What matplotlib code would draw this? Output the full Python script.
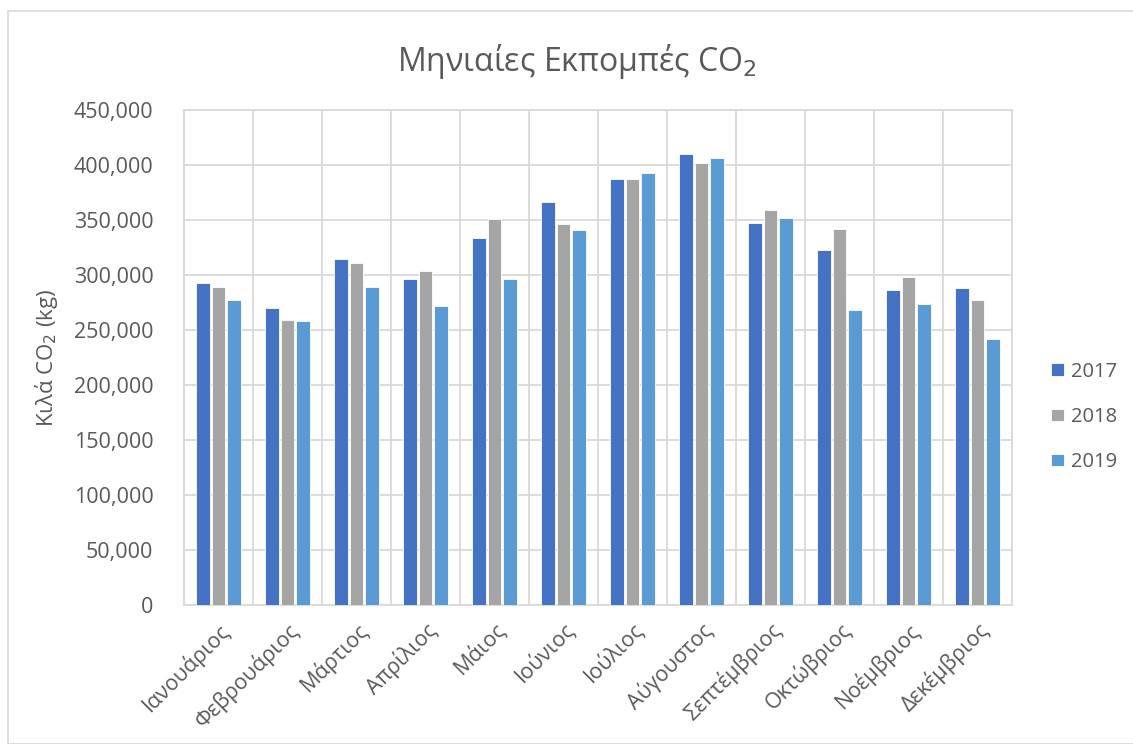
import numpy as np
import matplotlib
matplotlib.use('Agg')
import matplotlib.pyplot as plt
from matplotlib.patches import Rectangle
from matplotlib.ticker import FuncFormatter

# Δεδομένα (εκτίμηση από το γράφημα)
mines = ['Ιανουάριος', 'Φεβρουάριος', 'Μάρτιος', 'Απρίλιος', 'Μάιος', 'Ιούνιος',
         'Ιούλιος', 'Αύγουστος', 'Σεπτέμβριος', 'Οκτώβριος', 'Νοέμβριος', 'Δεκέμβριος']
etos_2017 = [293000, 270000, 314500, 296000, 333500, 366500, 387500, 410000, 347500, 323000, 286000, 288000]
etos_2018 = [289500, 259000, 310500, 304000, 350500, 346500, 387500, 402000, 359000, 342000, 298500, 277000]
etos_2019 = [277500, 258000, 289000, 272000, 296500, 340500, 393000, 406500, 351500, 268500, 273500, 242000]
xronia = ['2017', '2018', '2019']
xromata = ['#4472C4', '#A5A5A5', '#5B9BD5']

plt.rcParams['font.family'] = ['Open Sans', 'DejaVu Sans']
keimeno = '#595959'
plegma = '#D9D9D9'

fig = plt.figure(figsize=(11.33, 7.44), dpi=100)
ax = fig.add_axes([0.1624, 0.1868, 0.7308, 0.6654])

# πλαίσιο γραφήματος
fig.patches.append(Rectangle((8 / 1133, 0), 1.2, 1 - 11 / 744, transform=fig.transFigure,
                             fill=False, edgecolor=plegma, linewidth=1.2))

x = np.arange(len(mines))
platos = 0.2
for i, (dedomena, xr, et) in enumerate(zip([etos_2017, etos_2018, etos_2019], xromata, xronia)):
    ax.bar(x + (i - 1) * 0.225, dedomena, width=platos, color=xr, edgecolor='white',
           linewidth=0.6, label=et, zorder=3)

ax.set_xlim(-0.5, len(mines) - 0.5)
ax.set_ylim(0, 450000)
ax.set_yticks(np.arange(0, 450001, 50000))
ax.yaxis.set_major_formatter(FuncFormatter(lambda v, p: f'{int(v):,}'))
ax.set_xticks(x)
ax.set_xticklabels(mines, rotation=45, ha='right', rotation_mode='anchor')
ax.set_xticks(np.arange(-0.5, len(mines)), minor=True)

ax.grid(axis='y', which='major', color=plegma, linewidth=1.3, zorder=0)
ax.grid(axis='x', which='minor', color=plegma, linewidth=1.3, zorder=0)
ax.tick_params(axis='both', which='both', length=0, colors=keimeno, labelsize=15.5)
ax.tick_params(axis='x', pad=10)
ax.tick_params(axis='y', pad=22)
for s in ax.spines.values():
    s.set_color(plegma)
    s.set_linewidth(1.3)

ax.set_ylabel('Κιλά CO$_2$ (kg)', color=keimeno, fontsize=16, labelpad=10)
fig.text(0.509, 0.918, 'Μηνιαίες Εκπομπές CO$_2$', color=keimeno, fontsize=23,
         ha='center', va='center')

fig.legend(loc='center left', bbox_to_anchor=(0.928, 0.4395), frameon=False,
           borderpad=0, borderaxespad=0,
           fontsize=14.5, labelcolor=keimeno, handlelength=0.6, handleheight=0.6,
           handletextpad=0.35, labelspacing=1.25)

plt.savefig('out.png', dpi=100)
